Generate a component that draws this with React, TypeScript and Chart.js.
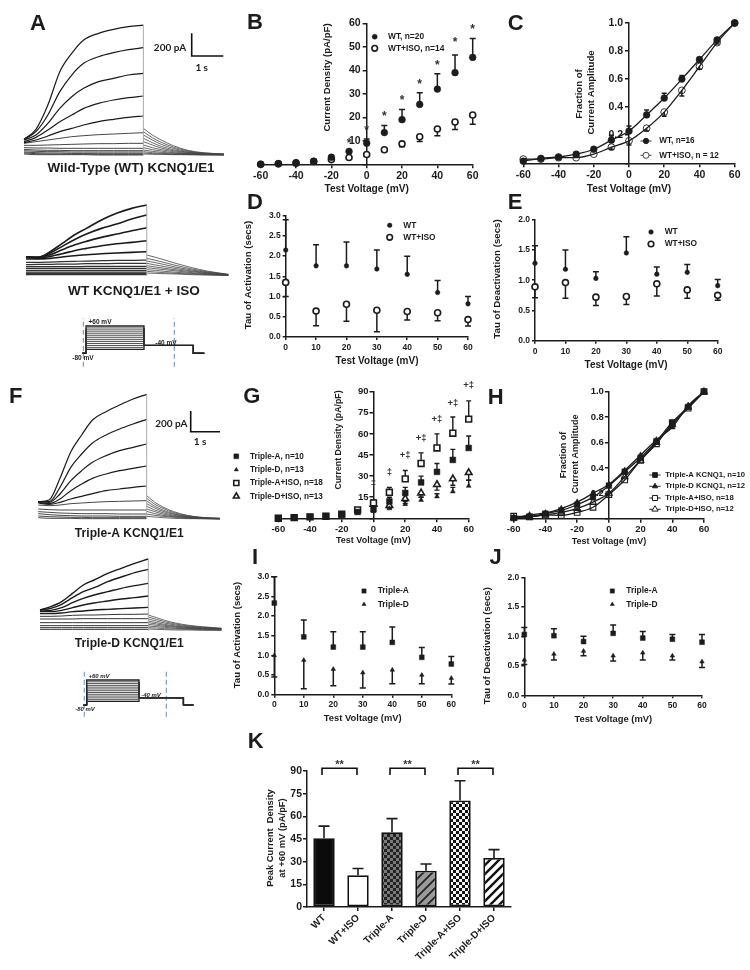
import React, { useEffect, useRef } from "react";
import { Chart, registerables } from "chart.js";
import { drawPoint } from "chart.js/helpers";

Chart.register(...registerables);

const mVFull = [-60, -50, -40, -30, -20, -10, 0, 10, 20, 30, 40, 50, 60];
const mVPos = [0, 10, 20, 30, 40, 50, 60];
const N = null;

// Panel B
const bWt = [0, 0.3, 0.7, 1.3, 3, 5.5, 9, 13.5, 19, 25.5, 32, 39, 45.5];
const bWtErr = [N, N, N, N, N, N, 10.8, 16.5, 23.3, 30.5, 38.5, 46.5, 53.5];
const bIso = [0, 0.2, 0.5, 1.2, 2, 2.9, 4.2, 6.2, 8.7, 11.7, 15, 18, 21];
const bIsoErr = [N, N, N, N, N, N, 3.5, 5.5, 7.5, 9.7, 12.2, 14.8, 17];
const bStarX = [-10, 0, 10, 20, 30, 40, 50, 60];
const bStarY = [10, 15.5, 21.5, 28, 35, 43, 53, 58.5];

// Panel C
const cWt = [0.015, 0.035, 0.045, 0.065, 0.1, 0.165, 0.23, 0.345, 0.465, 0.6, 0.74, 0.88, 1];
const cWtErr = [N, N, N, N, N, 0.2, 0.265, 0.38, 0.5, 0.625, 0.75, 0.89, N];
const cIso = [0.03, 0.03, 0.04, 0.04, 0.065, 0.115, 0.16, 0.25, 0.365, 0.52, 0.69, 0.86, 1];
const cIsoErr = [N, N, N, N, N, 0.1, 0.13, 0.23, 0.335, 0.48, 0.67, 0.85, N];

// Panel D
const dWt = [2.15, 1.76, 1.76, 1.68, 1.55, 1.1, 0.82];
const dWtErr = [2.9, 2.28, 2.35, 2.15, 2.0, 1.4, 1.0];
const dIso = [1.35, 0.64, 0.81, 0.66, 0.63, 0.6, 0.43];
const dIsoErr = [1.0, 0.28, 0.39, 0.13, 0.42, 0.4, 0.27];

// Panel E
const eWt = [1.28, 1.18, 1.03, 1.45, 1.1, 1.13, 0.91];
const eWtErr = [1.57, 1.5, 1.14, 1.72, 1.22, 1.26, 1.01];
const eIso = [0.89, 0.96, 0.72, 0.73, 0.94, 0.84, 0.75];
const eIsoErr = [0.71, 0.7, 0.58, 0.6, 0.74, 0.7, 0.67];

// Panel G
const gA = [0, 0.5, 1, 1.5, 2.5, 4.5, 6.5, 12, 18, 25.5, 33, 41.5, 50];
const gAErr = [N, N, N, N, N, N, N, 15, 22, 30, 39, 49, 58.5];
const gD = [N, N, N, N, N, N, 5, 7, 10, 13, 15.5, 19, 23];
const gDErr = [N, N, N, N, N, N, N, 9, 12, 15, 17.5, 22, 27];
const gAIso = [0, 0.5, 1, 1.5, 3, 6, 11, 18.5, 28, 39, 50, 60.5, 70.5];
const gAIsoErr = [N, N, N, N, N, N, 13, 22, 34, 46.5, 60, 72, 83.5];
const gDIso = [N, N, N, N, N, N, 10, 9, 14, 18, 24, 28, 32.5];
const gDIsoErr = [N, N, N, N, N, N, N, 7, 10.5, 15, 20, 23.5, 27];
const gMarkX = [0, 10, 20, 30, 40, 50, 60];
const gMarkY = [25, 32.7, 45, 57, 70.5, 81.7, 94.7];
const gMarkText = ["‡", "‡", "+‡", "+‡", "+‡", "+‡", "+‡"];

// Panel H
const hA = [0.005, 0.015, 0.04, 0.065, 0.11, 0.17, 0.26, 0.37, 0.48, 0.61, 0.76, 0.88, 1];
const hD = [0.005, 0.03, 0.045, 0.08, 0.13, 0.2, 0.27, 0.38, 0.5, 0.62, 0.72, 0.89, 1];
const hAIso = [0.02, 0.015, 0.03, 0.025, 0.05, 0.09, 0.19, 0.305, 0.46, 0.59, 0.75, 0.87, 1];
const hDIso = [0.005, 0.015, 0.03, 0.05, 0.08, 0.13, 0.2, 0.33, 0.46, 0.6, 0.74, 0.88, 1];

// Panel I
const iA = [2.33, 1.47, 1.21, 1.21, 1.33, 0.95, 0.78];
const iAErr = [3.0, 1.9, 1.6, 1.6, 1.72, 1.2, 0.97];
const iD = [1.0, 0.88, 0.65, 0.56, 0.63, 0.5, 0.42];
const iDErr = [0.45, 0.15, 0.23, 0.17, 0.28, 0.28, 0.27];

// Panel J
const jA = [1.03, 1.01, 0.91, 1.05, 0.97, 0.95, 0.9];
const jAErr = [1.15, 1.13, 1.0, 1.19, 1.08, 1.03, 1.03];
const jD = [0.6, 0.7, 0.75, 0.67, 0.72, 0.67, 0.57];
const jDErr = [0.52, 0.6, 0.67, 0.58, 0.6, 0.6, 0.47];

// Panel K
const kLabels = ["WT", "WT+ISO", "Triple-A", "Triple-D", "Triple-A+ISO", "Triple-D+ISO"];
const kValues = [45.5, 21, 49.5, 24, 70.5, 32.5];
const kErr = [53.5, 25.5, 58.5, 28.5, 83.5, 38];
const kBrackets = [[0, 1], [2, 3], [4, 5]];

// Current traces: time in seconds, amplitude in thirds of a reference pixel
const stepTimes = [0, 0.4, 0.8, 1.2, 1.6, 2, 2.5, 3, 3.5, 4];
const tailTimes = [4, 4.3, 4.6, 5, 5.5, 6, 6.7];

const wtSweeps = [
  [47, 77, 150, 250, 305, 345, 365, 377, 385, 390],
  [47, 70, 120, 190, 240, 275, 295, 307, 316, 322],
  [45, 60, 95, 140, 175, 200, 220, 230, 240, 245],
  [40, 53, 75, 100, 120, 140, 155, 165, 172, 177],
  [37, 45, 57, 70, 80, 90, 100, 107, 113, 117],
  [35, 40, 45, 50, 55, 58, 61, 63, 65, 67],
  [29, 29, 30, 31, 32, 33, 34, 34, 35, 35],
  [22, 21, 21, 20, 20, 20, 20, 20, 20, 20],
  [17, 15, 14, 14, 13, 13, 13, 13, 13, 13],
  [13, 11, 10, 10, 9, 9, 9, 9, 9, 9],
  [9, 7, 6, 6, 5, 5, 5, 5, 5, 5],
  [6, 4, 3, 3, 3, 3, 2, 2, 2, 2],
  [3, 1, 1, 1, 1, 1, 0, 0, 0, 0],
];
const wtTails = [
  [80, 60, 45, 28, 14, 7, 3],
  [70, 52, 38, 24, 12, 6, 3],
  [60, 45, 32, 20, 10, 5, 2],
  [50, 37, 26, 16, 8, 4, 2],
  [40, 30, 21, 13, 7, 3, 2],
  [30, 22, 16, 10, 5, 3, 1],
  [22, 16, 12, 7, 4, 2, 1],
  [15, 11, 8, 5, 3, 2, 1],
  [10, 7, 5, 3, 2, 1, 1],
  [6, 4, 3, 2, 1, 1, 0],
  [3, 2, 2, 1, 1, 0, 0],
];
const isoSweeps = [
  [57, 55, 72, 97, 122, 142, 167, 187, 202, 212],
  [57, 55, 68, 88, 108, 125, 142, 155, 170, 182],
  [57, 55, 63, 78, 92, 103, 115, 125, 135, 144],
  [55, 52, 58, 66, 75, 82, 90, 96, 100, 105],
  [50, 50, 52, 56, 60, 63, 66, 68, 70, 72],
  [40, 40, 41, 42, 43, 44, 45, 46, 46, 47],
  [33, 34, 34, 35, 35, 36, 36, 37, 37, 37],
  [27, 27, 27, 27, 27, 28, 28, 28, 28, 28],
  [22, 22, 22, 22, 22, 22, 22, 22, 22, 22],
  [16, 16, 16, 16, 16, 16, 16, 16, 16, 16],
  [11, 11, 11, 11, 11, 11, 11, 11, 11, 11],
  [7, 7, 7, 7, 7, 7, 7, 7, 7, 7],
  [3, 3, 3, 3, 3, 3, 3, 3, 3, 3],
];
const isoTails = [
  [62, 55, 47, 36, 24, 14, 4],
  [52, 46, 39, 30, 20, 12, 4],
  [44, 39, 33, 25, 17, 10, 3],
  [37, 32, 27, 21, 14, 9, 3],
  [30, 26, 22, 17, 12, 7, 2],
  [24, 21, 18, 14, 9, 6, 2],
  [18, 16, 13, 10, 7, 4, 1],
  [13, 11, 9, 7, 5, 3, 1],
  [8, 7, 6, 5, 3, 2, 1],
];
const tripleASweeps = [
  [52, 57, 122, 202, 252, 297, 322, 342, 360, 374],
  [52, 52, 95, 155, 195, 228, 252, 270, 285, 299],
  [52, 50, 75, 115, 145, 170, 190, 205, 215, 225],
  [50, 46, 60, 85, 105, 122, 135, 145, 152, 159],
  [48, 44, 50, 60, 68, 76, 85, 90, 95, 99],
  [42, 40, 42, 46, 48, 50, 52, 53, 54, 55],
  [30, 28, 27, 27, 27, 27, 27, 27, 27, 27],
  [22, 20, 18, 17, 16, 16, 16, 15, 15, 15],
  [16, 13, 11, 10, 9, 9, 9, 8, 8, 8],
  [9, 7, 6, 5, 5, 4, 4, 4, 4, 4],
  [4, 2, 2, 2, 1, 1, 1, 1, 1, 1],
];
const tripleATails = [
  [70, 50, 36, 22, 11, 5, 2],
  [62, 44, 32, 19, 10, 5, 2],
  [54, 38, 27, 16, 8, 4, 2],
  [46, 33, 23, 14, 7, 3, 1],
  [38, 27, 19, 11, 6, 3, 1],
  [30, 22, 15, 9, 5, 2, 1],
  [23, 16, 11, 7, 4, 2, 1],
  [15, 11, 8, 5, 2, 1, 0],
  [8, 6, 4, 2, 1, 1, 0],
];
const tripleDSweeps = [
  [63, 73, 88, 113, 138, 153, 173, 188, 203, 216],
  [63, 68, 80, 100, 118, 130, 148, 162, 175, 185],
  [60, 62, 70, 85, 98, 108, 118, 128, 136, 143],
  [58, 58, 62, 70, 78, 84, 90, 96, 100, 105],
  [52, 52, 54, 58, 60, 63, 65, 67, 69, 71],
  [44, 44, 45, 47, 48, 48, 49, 50, 50, 51],
  [36, 36, 36, 36, 37, 37, 37, 37, 37, 37],
  [25, 25, 25, 25, 25, 25, 25, 25, 25, 25],
  [16, 16, 16, 16, 16, 16, 16, 16, 16, 16],
  [10, 10, 10, 10, 10, 10, 10, 10, 10, 10],
  [5, 5, 5, 5, 5, 5, 5, 5, 5, 5],
];
const tripleDTails = [
  [48, 40, 32, 24, 17, 13, 8],
  [42, 35, 28, 21, 15, 11, 8],
  [36, 30, 24, 18, 13, 10, 7],
  [30, 25, 20, 15, 11, 9, 7],
  [25, 21, 17, 13, 10, 8, 6],
  [20, 17, 14, 11, 8, 7, 5],
  [15, 13, 11, 8, 7, 5, 4],
  [10, 9, 7, 6, 5, 4, 3],
  [6, 5, 4, 3, 3, 2, 2],
];

// Voltage protocol
const protocolLevels = [60, 50, 40, 30, 20, 10, 0, -10, -20, -30, -40, -50, -60];
const protocolTimes = [-0.25, 0, 0, 4, 4, 7.4, 7.4, 8.15];
const protocolDashTimes = [-0.18, 6.09];

const SANS = "'Liberation Sans', Arial, sans-serif";
const INK = "#1c1c1c";

type Note = { t: string; x: number; y: number; f: string; rot?: number; align?: CanvasTextAlign; color?: string };
const bold = (s: number) => `bold ${s}px ${SANS}`;
const note = (t: string, x: number, y: number, s: number, rot = 0): Note => ({ t, x, y, f: bold(s), rot });

type Leg = { style: string; r: number; fill: string; bw: number; text: string; y: number };

function notesPlugin(notes: Note[], legend?: { mx: number; tx: number; size: number; line?: number; items: Leg[] }) {
  return {
    id: "notes",
    afterDraw(chart: any) {
      const c = chart.ctx as CanvasRenderingContext2D;
      c.save();
      c.textBaseline = "middle";
      for (const n of notes) {
        c.save();
        c.translate(n.x, n.y);
        if (n.rot) c.rotate((n.rot * Math.PI) / 180);
        c.font = n.f;
        c.fillStyle = n.color || INK;
        c.textAlign = n.align || "center";
        c.fillText(n.t, 0, 0);
        c.restore();
      }
      if (legend) {
        for (const it of legend.items) {
          c.strokeStyle = INK;
          c.lineWidth = it.bw || 1;
          if (legend.line) {
            c.beginPath();
            c.moveTo(legend.mx - legend.line, it.y);
            c.lineTo(legend.mx + legend.line, it.y);
            c.stroke();
          }
          c.fillStyle = it.fill;
          c.lineWidth = it.bw;
          drawPoint(c, { pointStyle: it.style, rotation: 0, radius: it.r, borderWidth: it.bw } as any, legend.mx, it.y);
          c.font = bold(legend.size);
          c.fillStyle = INK;
          c.textAlign = "left";
          c.fillText(it.text, legend.tx, it.y);
        }
      }
      c.restore();
    },
  };
}

const errorBarPlugin = (cap: number, lw: number) => ({
  id: "errBars",
  beforeDatasetsDraw(chart: any) {
    const c = chart.ctx as CanvasRenderingContext2D;
    const xs = chart.scales.x;
    const ys = chart.scales.y;
    c.save();
    c.strokeStyle = INK;
    c.lineWidth = lw;
    chart.data.datasets.forEach((ds: any) => {
      if (!ds.errEnd) return;
      ds.data.forEach((d: any, i: number) => {
        const end = ds.errEnd[i];
        if (end === null || end === undefined) return;
        const v = typeof d === "number" ? d : d.y;
        if (v === null) return;
        const px = typeof d === "number" ? xs.getPixelForValue(i) : xs.getPixelForValue(d.x);
        const p0 = ys.getPixelForValue(v);
        const p1 = ys.getPixelForValue(end);
        c.beginPath();
        c.moveTo(px, p0);
        c.lineTo(px, p1);
        c.moveTo(px - cap, p1);
        c.lineTo(px + cap, p1);
        c.stroke();
      });
    });
    c.restore();
  },
});

const marksPlugin = (xsV: number[], ysV: number[], texts: string[], size: number, shift: number) => ({
  id: "marks",
  afterDatasetsDraw(chart: any) {
    const c = chart.ctx as CanvasRenderingContext2D;
    c.save();
    c.font = bold(size);
    c.fillStyle = "#333";
    c.textAlign = "center";
    c.textBaseline = "middle";
    xsV.forEach((x, i) => {
      c.fillText(texts[i], chart.scales.x.getPixelForValue(x), chart.scales.y.getPixelForValue(ysV[i]) + shift);
    });
    c.restore();
  },
});

// The scales take no room in the layout, so the plot box stays exact; the clip
// area of their tick labels is opened up again once the layout is done.
const openLabels = (center: boolean) => ({
  id: "openLabels",
  afterLayout(chart: any) {
    const { x, y } = chart.scales;
    if (center) y.right = x.getPixelForValue(0);
    y.left = 0;
    x.bottom = 970;
  },
});

function pts(xs: number[], ys: (number | null)[]) {
  return xs.map((x, i) => ({ x, y: ys[i] }));
}

function axis(min: number, max: number, step: number, opts: any) {
  const fmt = opts.fmt || ((v: number) => String(v));
  return {
    type: "linear",
    min,
    max,
    position: opts.pos,
    afterFit: (s: any) => {
      if (opts.pos === "bottom") s.height = 0;
      else s.width = 0;
    },
    border: { color: INK, width: opts.lw || 1.5 },
    grid: { drawOnChartArea: false, color: INK, lineWidth: opts.lw || 1.5, tickLength: opts.tick || 4 },
    ticks: {
      stepSize: step,
      autoSkip: false,
      maxRotation: 0,
      padding: opts.pad ?? 2,
      color: INK,
      font: { family: SANS, size: opts.size || 10, weight: "bold" },
      callback: (v: number) => (opts.hideZero && v === 0 ? "" : fmt(v)),
    },
  };
}

function base(box: number[], scales: any) {
  return {
    responsive: false,
    animation: false as const,
    events: [] as any[],
    layout: {
      autoPadding: false,
      padding: { left: box[0], top: box[1], right: 750 - box[2], bottom: 970 - box[3] },
    },
    plugins: { legend: { display: false }, tooltip: { enabled: false }, title: { display: false } },
    scales,
  };
}

function marker(style: string, r: number, open: boolean, extra: any = {}) {
  return {
    pointStyle: style,
    pointRadius: r,
    pointBorderWidth: open ? 1.6 : 0.5,
    pointBorderColor: INK,
    pointBackgroundColor: open ? "#fff" : INK,
    showLine: false,
    borderColor: INK,
    clip: false as const,
    ...extra,
  };
}

function xyChart(cfg: any) {
  return {
    type: "line",
    data: { datasets: cfg.datasets },
    options: base(cfg.box, {
      x: axis(cfg.x[0], cfg.x[1], cfg.x[2], { pos: "bottom", size: cfg.size, tick: cfg.tick, pad: cfg.xpad ?? 1 }),
      y: axis(cfg.y[0], cfg.y[1], cfg.y[2], { pos: "left", size: cfg.size, tick: cfg.tick, fmt: cfg.fmt, hideZero: cfg.hideZero, pad: cfg.ypad ?? 1 }),
    }),
    plugins: [
      errorBarPlugin(cfg.cap || 3, cfg.errLw || 1.5),
      openLabels(!!cfg.center),
      ...(cfg.marks || []),
      notesPlugin(cfg.notes, cfg.legend),
    ],
  };
}

function traceChart(box: number[], xMax: number, yMax: number, sweeps: number[][], tails: number[][], lw: number, lowLw: number, notes: Note[]) {
  const datasets: any[] = [];
  const common = { pointRadius: 0, cubicInterpolationMode: "monotone", clip: false, fill: false };
  const peak = sweeps[0][sweeps[0].length - 1];
  datasets.push({ ...common, data: pts([4, 4], [0, peak]), borderColor: "#a8a8a8", borderWidth: 1 });
  sweeps.forEach((s, i) => {
    datasets.push({ ...common, data: pts(stepTimes, s), borderColor: i < 5 ? "#1a1a1a" : "#333", borderWidth: i < 5 ? lw : lowLw });
  });
  tails.forEach((s) => {
    datasets.push({ ...common, data: pts(tailTimes, s), borderColor: "#444", borderWidth: 0.8 });
  });
  const hide = (min: number, max: number) => ({ type: "linear", min, max, display: false });
  return {
    type: "line",
    data: { datasets },
    options: base(box, { x: hide(0, xMax), y: hide(0, yMax) }),
    plugins: [notesPlugin(notes)],
  };
}

function protocolChart(box: number[], yRange: number[], notes: Note[]) {
  const datasets: any[] = [];
  const common = { pointRadius: 0, clip: false, fill: false };
  protocolLevels.forEach((l, i) => {
    const edge = i === 0 || i === protocolLevels.length - 1;
    datasets.push({
      ...common,
      data: pts(protocolTimes, [-80, -80, l, l, -40, -40, -80, -80]),
      borderColor: edge ? "#222" : "#555",
      borderWidth: edge ? 1.3 : 1,
    });
  });
  protocolDashTimes.forEach((t) => {
    datasets.push({
      ...common,
      data: pts([t, t], yRange),
      borderColor: "#7f9fc4",
      borderWidth: 1.2,
      borderDash: [5, 3],
    });
  });
  const hide = (min: number, max: number) => ({ type: "linear", min, max, display: false });
  return {
    type: "line",
    data: { datasets },
    options: base(box, { x: hide(-1, 9), y: hide(yRange[0], yRange[1]) }),
    plugins: [notesPlugin(notes)],
  };
}

function tile(size: number, draw: (c: CanvasRenderingContext2D) => void) {
  const cv = document.createElement("canvas");
  cv.width = size;
  cv.height = size;
  const c = cv.getContext("2d")!;
  draw(c);
  return c.createPattern(cv, "repeat");
}
const checker = (bg: string, fg: string) =>
  tile(6, (c) => {
    c.fillStyle = bg;
    c.fillRect(0, 0, 6, 6);
    c.fillStyle = fg;
    c.fillRect(0, 0, 3, 3);
    c.fillRect(3, 3, 3, 3);
  });
const stripes = (bg: string, fg: string, w: number) =>
  tile(9, (c) => {
    c.fillStyle = bg;
    c.fillRect(0, 0, 9, 9);
    c.strokeStyle = fg;
    c.lineWidth = w;
    c.beginPath();
    c.moveTo(-4.5, 4.5);
    c.lineTo(4.5, -4.5);
    c.moveTo(0, 9);
    c.lineTo(9, 0);
    c.moveTo(4.5, 13.5);
    c.lineTo(13.5, 4.5);
    c.stroke();
  });

function buildConfigs() {
  const fraction = (v: number) => v.toFixed(1);
  const xTitle = "Test Voltage (mV)";

  const configs: any[] = [];

  // Traces
  configs.push(
    traceChart([24, 21.7, 226, 155], 6.77, 400, wtSweeps, wtTails, 1.2, 0.9, [
      note("A", 38, 24, 22),
      note("Wild-Type (WT) KCNQ1/E1", 131, 168.5, 13.4),
      { t: "200 pA", x: 170, y: 47.7, f: `bold 10px Lato, ${SANS}` },
      { t: "1 s", x: 201.7, y: 67.7, f: `bold 10px Lato, ${SANS}` },
    ]),
    traceChart([26, 175.7, 228, 275.7], 6.69, 300, isoSweeps, isoTails, 1.6, 1.2, [
      note("WT KCNQ1/E1 + ISO", 134, 291.7, 13.6),
    ]),
    traceChart([38.3, 374, 219.3, 519], 6.68, 435, tripleASweeps, tripleATails, 1.2, 0.9, [
      note("F", 15.7, 397.3, 22),
      note("Triple-A KCNQ1/E1", 129.3, 533.3, 12.1),
      { t: "200 pA", x: 171.3, y: 424, f: `bold 10px Lato, ${SANS}` },
      { t: "1 s", x: 200, y: 441.7, f: `bold 10px Lato, ${SANS}` },
    ]),
    traceChart([40, 548, 221.7, 631], 6.71, 249, tripleDSweeps, tripleDTails, 1.4, 1, [
      note("Triple-D KCNQ1/E1", 129.3, 644, 12.1),
    ]),
    protocolChart([71.5, 318.2, 216.5, 366.7], [-149, 100], [
      note("+60 mV", 88 + 12, 322, 6.5),
      note("-40 mV", 166, 343, 6.5),
      note("-80 mV", 83, 358, 6.5),
    ]),
    protocolChart([73.6, 671.7, 204.4, 716.7], [-145.5, 106.5], [
      { t: "+60 mV", x: 99, y: 676, f: `italic bold 6px ${SANS}` },
      { t: "-40 mV", x: 151, y: 695, f: `italic bold 6px ${SANS}` },
      { t: "-80 mV", x: 85, y: 709, f: `italic bold 6px ${SANS}` },
    ])
  );

  // Scale bars share the page coordinates of the canvases
  configs.push({
    type: "line",
    data: {
      datasets: [
        { data: pts([191.7, 191.7, 223.3], [33.3, 56, 56]), borderColor: "#111", borderWidth: 1.6, pointRadius: 0, clip: false },
        { data: pts([190.7, 190.7, 220], [411, 431.7, 431.7]), borderColor: "#111", borderWidth: 1.6, pointRadius: 0, clip: false },
      ],
    },
    options: {
      ...base([0, 0, 750, 970], {
        x: { type: "linear", min: 0, max: 750, display: false },
        y: { type: "linear", min: 0, max: 970, reverse: true, display: false },
      }),
    },
  });

  // B
  configs.push(
    xyChart({
      box: [260.7, 23.3, 472.7, 164.3],
      x: [-60, 60, 20],
      y: [0, 60, 10],
      size: 10.5,
      xpad: 2,
      ypad: 2,
      center: true,
      hideZero: true,
      cap: 3,
      datasets: [
        { ...marker("circle", 3.4, false), data: pts(mVFull, bWt), errEnd: bWtErr },
        { ...marker("circle", 3, true), data: pts(mVFull, bIso), errEnd: bIsoErr },
      ],
      marks: [marksPlugin(bStarX, bStarY, bStarX.map(() => "*"), 12, 2.5)],
      notes: [
        note("B", 255, 23.3, 22),
        note("Current Density (pA/pF)", 327.7, 77.5, 9.6, -90),
        note(xTitle, 366.7, 189, 10.2),
      ],
      legend: {
        mx: 374.7,
        tx: 388,
        size: 8.4,
        items: [
          { style: "circle", r: 2.5, fill: INK, bw: 0.5, text: "WT, n=20", y: 36.7 },
          { style: "circle", r: 2.8, fill: "#fff", bw: 1.6, text: "WT+ISO, n=14", y: 48.3 },
        ],
      },
    })
  );

  // C
  const curve = { showLine: true, cubicInterpolationMode: "monotone", borderWidth: 1.3, borderColor: INK };
  configs.push(
    xyChart({
      box: [523.3, 23, 734.7, 163.3],
      x: [-60, 60, 20],
      y: [0, 1, 0.2],
      size: 10.5,
      xpad: 2,
      ypad: 2,
      center: true,
      hideZero: true,
      fmt: fraction,
      cap: 2.5,
      datasets: [
        { ...marker("circle", 3.4, false), ...curve, data: pts(mVFull, cWt), errEnd: cWtErr },
        { ...marker("circle", 3.4, true, { pointBorderWidth: 0.9, pointBackgroundColor: "rgba(255,255,255,0)" }), ...curve, data: pts(mVFull, cIso), errEnd: cIsoErr },
      ],
      notes: [
        note("C", 515.7, 24, 22),
        note("Fraction of", 579, 94, 9.6, -90),
        note("Current Amplitude", 591, 92.5, 9.6, -90),
        note(xTitle, 629, 189, 10.2),
      ],
      legend: {
        mx: 646,
        tx: 659.3,
        size: 8.2,
        line: 5.5,
        items: [
          { style: "circle", r: 2.7, fill: INK, bw: 0.9, text: "WT, n=16", y: 141 },
          { style: "circle", r: 3, fill: "#fff", bw: 0.8, text: "WT+ISO, n = 12", y: 155.3 },
        ],
      },
    })
  );

  // D
  configs.push(
    xyChart({
      box: [285.7, 215.7, 468, 337],
      x: [0, 60, 10],
      y: [0, 3, 0.5],
      size: 8.5,
      tick: 3,
      xpad: 2.6,
      ypad: 2,
      fmt: fraction,
      datasets: [
        { ...marker("circle", 2.3, false), data: pts(mVPos, dWt), errEnd: dWtErr },
        { ...marker("circle", 3, true), data: pts(mVPos, dIso), errEnd: dIsoErr },
      ],
      notes: [
        note("D", 255, 203.3, 22),
        note("Tau of Activation (secs)", 248.3, 275, 9.7, -90),
        note(xTitle, 377, 361.7, 10),
      ],
      legend: {
        mx: 389.7,
        tx: 403.3,
        size: 8.4,
        items: [
          { style: "circle", r: 2.3, fill: INK, bw: 0.5, text: "WT", y: 225.3 },
          { style: "circle", r: 2.8, fill: "#fff", bw: 1.6, text: "WT+ISO", y: 237.3 },
        ],
      },
    })
  );

  // E
  configs.push(
    xyChart({
      box: [535, 219.7, 717.7, 340.7],
      x: [0, 60, 10],
      y: [0, 2, 0.5],
      size: 8.5,
      tick: 3,
      xpad: 2.6,
      ypad: 2,
      fmt: fraction,
      datasets: [
        { ...marker("circle", 2.3, false), data: pts(mVPos, eWt), errEnd: eWtErr },
        { ...marker("circle", 3, true), data: pts(mVPos, eIso), errEnd: eIsoErr },
      ],
      notes: [
        note("E", 515, 203.3, 22),
        note("Tau of Deactivation (secs)", 497.3, 279, 9.7, -90),
        note(xTitle, 626, 365, 10),
      ],
      legend: {
        mx: 651,
        tx: 664.7,
        size: 8.4,
        items: [
          { style: "circle", r: 2.3, fill: INK, bw: 0.5, text: "WT", y: 232 },
          { style: "circle", r: 2.8, fill: "#fff", bw: 1.6, text: "WT+ISO", y: 244 },
        ],
      },
    })
  );

  // G
  configs.push(
    xyChart({
      box: [278.3, 391.7, 468.7, 518.3],
      x: [-60, 60, 20],
      y: [0, 90, 15],
      size: 9.5,
      center: true,
      hideZero: true,
      cap: 2.5,
      errLw: 1.4,
      datasets: [
        { ...marker("rect", 4.1, false), data: pts(mVFull, gA), errEnd: gAErr },
        { ...marker("triangle", 2.8, false), data: pts(mVFull, gD), errEnd: gDErr },
        { ...marker("rect", 4.1, true), data: pts(mVFull, gAIso), errEnd: gAIsoErr },
        { ...marker("triangle", 3.8, true), data: pts(mVFull, gDIso), errEnd: gDIsoErr },
      ],
      marks: [marksPlugin(gMarkX, gMarkY, gMarkText, 9.5, 0)],
      notes: [
        note("G", 251.7, 397.3, 22),
        note("Current Density (pA/pF)", 338.7, 440, 8.8, -90),
        note(xTitle, 373.3, 540.7, 9),
      ],
      legend: {
        mx: 236.3,
        tx: 250,
        size: 8.2,
        items: [
          { style: "rect", r: 3.4, fill: INK, bw: 0.5, text: "Triple-A, n=10", y: 456.3 },
          { style: "triangle", r: 2.4, fill: INK, bw: 0.5, text: "Triple-D, n=13", y: 469.7 },
          { style: "rect", r: 3.6, fill: "#fff", bw: 1.6, text: "Triple-A+ISO, n=18", y: 483 },
          { style: "triangle", r: 3.4, fill: "#fff", bw: 1.6, text: "Triple-D+ISO, n=13", y: 496.3 },
        ],
      },
    })
  );

  // H
  const thin = (style: string, r: number, open: boolean) =>
    marker(style, r, open, open ? { pointBorderWidth: 1.1, pointBackgroundColor: "rgba(255,255,255,0)" } : {});
  configs.push(
    xyChart({
      box: [513.7, 391.7, 704, 518.7],
      x: [-60, 60, 20],
      y: [0, 1, 0.2],
      size: 9.5,
      center: true,
      hideZero: true,
      fmt: fraction,
      datasets: [
        { ...thin("rect", 4, false), ...curve, data: pts(mVFull, hA) },
        { ...thin("triangle", 3.4, false), ...curve, data: pts(mVFull, hD) },
        { ...thin("rect", 4, true), ...curve, data: pts(mVFull, hAIso) },
        { ...thin("triangle", 3.8, true), ...curve, data: pts(mVFull, hDIso) },
      ],
      notes: [
        note("H", 495.7, 398.3, 22),
        note("Fraction of", 564, 455, 9, -90),
        note("Current Amplitude", 575.7, 454, 9, -90),
        note(xTitle, 609, 541.7, 9),
      ],
      legend: {
        mx: 655,
        tx: 665.3,
        size: 7.7,
        line: 5.7,
        items: [
          { style: "rect", r: 3.4, fill: INK, bw: 0.9, text: "Triple-A KCNQ1, n=10", y: 475 },
          { style: "triangle", r: 3, fill: INK, bw: 0.9, text: "Triple-D KCNQ1, n=12", y: 486.3 },
          { style: "rect", r: 3.6, fill: "#fff", bw: 1, text: "Triple-A+ISO, n=18", y: 498 },
          { style: "triangle", r: 3.6, fill: "#fff", bw: 1, text: "Triple-D+ISO, n=12", y: 509.3 },
        ],
      },
    })
  );

  // I
  configs.push(
    xyChart({
      box: [274.3, 576.7, 451.3, 694.7],
      x: [0, 60, 10],
      y: [0, 3, 0.5],
      size: 8.5,
      tick: 3,
      xpad: 2.2,
      ypad: 2,
      fmt: fraction,
      datasets: [
        { ...marker("rect", 3.4, false), data: pts(mVPos, iA), errEnd: iAErr },
        { ...marker("triangle", 2.6, false), data: pts(mVPos, iD), errEnd: iDErr },
      ],
      notes: [
        note("I", 255, 557.7, 22),
        note("Tau of Activation (secs)", 237.7, 635, 9.5, -90),
        note(xTitle, 362.7, 718.5, 9.4),
      ],
      legend: {
        mx: 364,
        tx: 377.7,
        size: 8.4,
        items: [
          { style: "rect", r: 3, fill: INK, bw: 0.5, text: "Triple-A", y: 591 },
          { style: "triangle", r: 2.4, fill: INK, bw: 0.5, text: "Triple-D", y: 604.3 },
        ],
      },
    })
  );

  // J
  configs.push(
    xyChart({
      box: [524.3, 577.3, 702, 695.3],
      x: [0, 60, 10],
      y: [0, 2, 0.5],
      size: 8.5,
      tick: 3,
      xpad: 2.2,
      ypad: 2,
      fmt: fraction,
      datasets: [
        { ...marker("rect", 3.4, false), data: pts(mVPos, jA), errEnd: jAErr },
        { ...marker("triangle", 2.6, false), data: pts(mVPos, jD), errEnd: jDErr },
      ],
      notes: [
        note("J", 495.7, 557.7, 22),
        note("Tau of Deactivation (secs)", 487.7, 645.7, 9.5, -90),
        note(xTitle, 613.3, 719, 9.4),
      ],
      legend: {
        mx: 612.3,
        tx: 626.3,
        size: 8.4,
        items: [
          { style: "rect", r: 3, fill: INK, bw: 0.5, text: "Triple-A", y: 591 },
          { style: "triangle", r: 2.4, fill: INK, bw: 0.5, text: "Triple-D", y: 604.3 },
        ],
      },
    })
  );

  // K
  const fills = [
    "#0b0b0b",
    "#ffffff",
    checker("#222", "#7a7a7a"),
    stripes("#9a9a9a", "#222", 1.8),
    checker("#111", "#f4f4f4"),
    stripes("#ffffff", "#111", 2.4),
  ];
  const brackets = {
    id: "brackets",
    afterDatasetsDraw(chart: any) {
      const c = chart.ctx as CanvasRenderingContext2D;
      const xs = chart.scales.x;
      const ys = chart.scales.y;
      c.save();
      c.strokeStyle = "#111";
      c.lineWidth = 1.6;
      c.fillStyle = "#333";
      c.font = bold(11);
      c.textAlign = "center";
      c.textBaseline = "middle";
      kBrackets.forEach(([a, b]) => {
        const x0 = xs.getPixelForValue(a) - 2;
        const x1 = xs.getPixelForValue(b) - 2 + 1;
        const top = ys.getPixelForValue(91.8);
        const low = ys.getPixelForValue(87.4);
        c.beginPath();
        c.moveTo(x0, low);
        c.lineTo(x0, top);
        c.lineTo(x1, top);
        c.lineTo(x1, low);
        c.stroke();
        c.fillText("**", (x0 + x1) / 2, ys.getPixelForValue(95) + 2);
      });
      c.restore();
    },
  };
  const kx: any = {
    type: "category",
    position: "bottom",
    afterFit: (s: any) => {
      s.height = 0;
    },
    border: { color: INK, width: 1.5 },
    grid: { drawOnChartArea: false, color: INK, lineWidth: 1.5, tickLength: 4, offset: false },
    ticks: {
      autoSkip: false,
      minRotation: 45,
      maxRotation: 45,
      padding: 1,
      color: INK,
      font: { family: SANS, size: 10, weight: "bold" },
    },
  };
  configs.push({
    type: "bar",
    data: {
      labels: kLabels,
      datasets: [
        {
          data: kValues,
          errEnd: kErr,
          backgroundColor: fills,
          borderColor: "#111",
          borderWidth: 1.8,
          borderSkipped: false,
          barPercentage: 0.63,
          categoryPercentage: 1,
        },
      ],
    },
    options: base([307, 771, 511, 907], {
      x: kx,
      y: axis(0, 90, 15, { pos: "left", size: 10.5, pad: 1 }),
    }),
    plugins: [
      errorBarPlugin(5.5, 1.6),
      openLabels(false),
      brackets,
      notesPlugin([
        note("K", 255.7, 741.7, 22),
        note("Peak Current  Density", 270, 838, 9.4, -90),
        note("at +60 mV (pA/pF)", 282.7, 838, 9.4, -90),
      ]),
    ],
  });

  return configs;
}

const PANEL_COUNT = 16;

export default function App() {
  const refs = useRef<(HTMLCanvasElement | null)[]>([]);
  useEffect(() => {
    const configs = buildConfigs();
    const charts = configs.map((cfg, i) => new Chart(refs.current[i] as HTMLCanvasElement, cfg));
    return () => charts.forEach((c) => c.destroy());
  }, []);
  return (
    <div style={{ position: "absolute", left: 0, top: 0, width: 750, height: 970, overflow: "hidden", background: "#fff", filter: "blur(0.35px)" }}>
      {Array.from({ length: PANEL_COUNT }, (_, i) => (
        <canvas
          key={i}
          ref={(el) => {
            refs.current[i] = el;
          }}
          width={750}
          height={970}
          style={{ position: "absolute", left: 0, top: 0, width: 750, height: 970 }}
        />
      ))}
    </div>
  );
}
